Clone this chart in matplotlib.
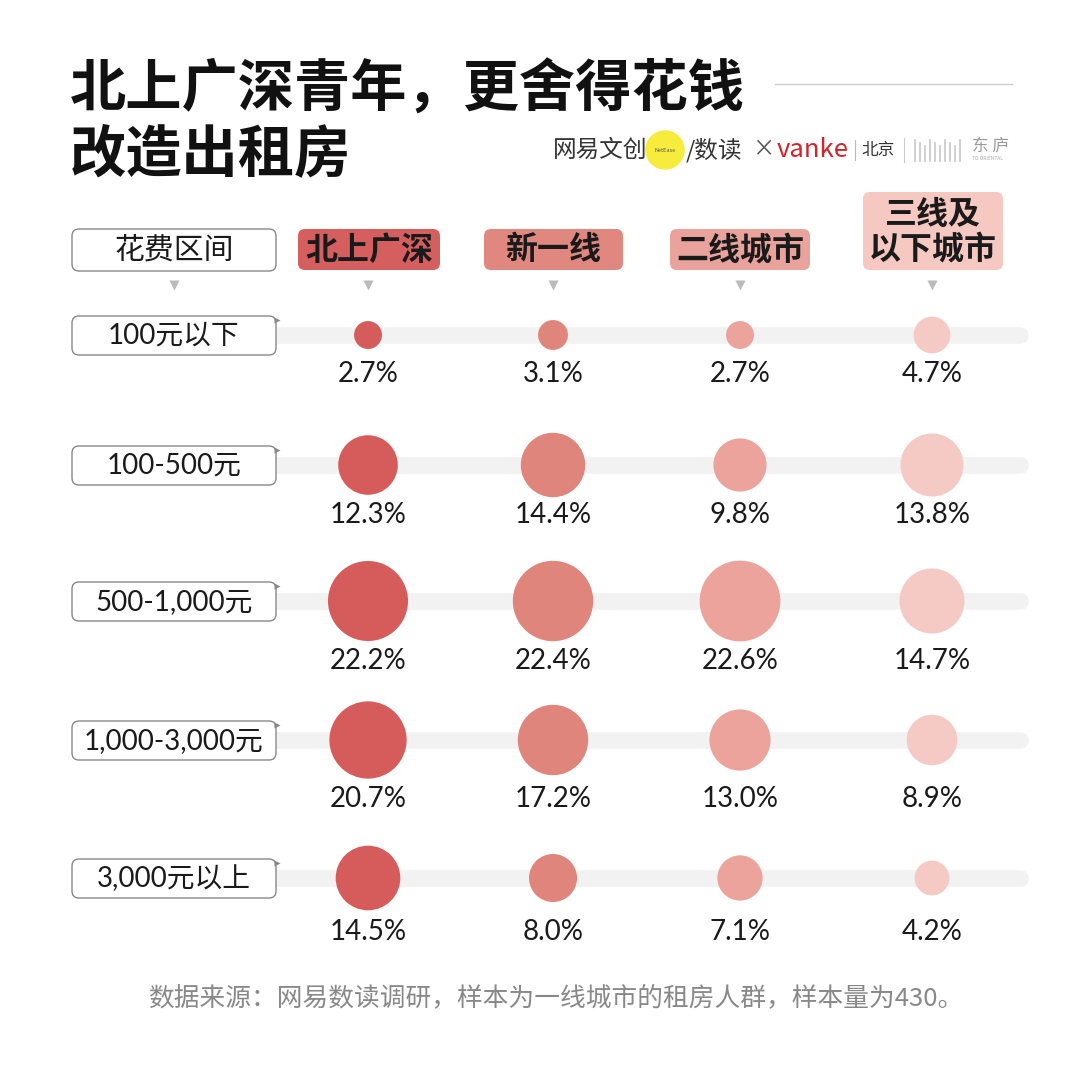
import matplotlib
matplotlib.use("Agg")
import matplotlib.pyplot as plt
from matplotlib.patches import FancyBboxPatch, Circle

plt.rcParams['font.family'] = ['Noto Sans CJK SC', 'DejaVu Sans']

# ---- data ----
categories = ['北上广深', '新一线', '二线城市', '三线及\n以下城市']
ranges = ['100元以下', '100-500元', '500-1,000元', '1,000-3,000元', '3,000元以上']
tier1 = [2.7, 12.3, 22.2, 20.7, 14.5]
new_tier1 = [3.1, 14.4, 22.4, 17.2, 8.0]
tier2 = [2.7, 9.8, 22.6, 13.0, 7.1]
tier3 = [4.7, 13.8, 14.7, 8.9, 4.2]
series = [tier1, new_tier1, tier2, tier3]

title1 = '北上广深青年，更舍得花钱'
title2 = '改造出租房'
source = '数据来源：网易数读调研，样本为一线城市的租房人群，样本量为430。'

# ---- layout ----
W, H = 1080, 1092
fig = plt.figure(figsize=(W / 100, H / 100), dpi=100)
ax = fig.add_axes([0, 0, 1, 1])
ax.set_xlim(0, W)
ax.set_ylim(H, 0)
ax.axis('off')
fig.patch.set_facecolor('white')

col_x = [368, 553, 740, 932]
row_y = [335, 465, 601, 740, 878]
label_y = [374, 515, 661, 799, 932]
head_colors = ['#d55f5f', '#e08880', '#eaa39c', '#f5c8c1']
bubble_colors = ['#d65c5c', '#e0857c', '#eba39c', '#f6cac4']
text_dark = '#1a1a1a'
num_family = ['Lato', 'Noto Sans CJK SC']

# title
ax.text(70, 90, title1, fontsize=40.5, fontweight='bold', color='#111111', va='center', ha='left')
ax.text(70, 155, title2, fontsize=40.5, fontweight='bold', color='#111111', va='center', ha='left')
ax.plot([775, 1012], [84, 84], color='#cccccc', lw=1)

# logos
ax.text(553, 150, '网易文创', fontsize=17, color='#333333', va='center', ha='left')
ax.add_patch(Circle((665, 150), 19, color='#f7ec3b', zorder=1))
ax.text(665, 150, 'NetEase', fontsize=4, color='#555555', va='center', ha='center', zorder=2)
ax.text(686, 150, '/数读', fontsize=17, color='#333333', va='center', ha='left')
ax.text(752, 150, '×', fontsize=16, color='#555555', va='center', ha='left')
ax.text(777, 150, 'vanke', fontsize=18.5, color='#d2232a', va='center', ha='left')
ax.plot([855, 855], [140, 160], color='#bbbbbb', lw=0.8)
ax.text(861, 150, '北京', fontsize=12, color='#333333', va='center', ha='left')
ax.plot([904, 904], [138, 162], color='#cccccc', lw=0.8)
for i in range(10):
    ax.plot([915 + i * 5, 915 + i * 5], [140 + (i % 3) * 3, 161], color='#c8c8c8', lw=1.2)
ax.text(972, 146, '东 庐', fontsize=12, color='#999999', va='center', ha='left')
ax.text(972, 159, 'TO ORIENTAL', fontsize=3.5, color='#aaaaaa', va='center', ha='left')

# header boxes
def rbox(x0, y0, w, h, fc, ec='none', lw=0):
    ax.add_patch(FancyBboxPatch((x0, y0), w, h, boxstyle='round,pad=0,rounding_size=7',
                                fc=fc, ec=ec, lw=lw, zorder=2))

rbox(72, 229, 204, 42, 'white', '#888888', 1)
ax.text(174, 250, '花费区间', fontsize=21.5, color=text_dark, va='center', ha='center', zorder=3)

head_boxes = [(298, 229, 142, 41), (484, 229, 139, 41), (670, 229, 140, 41), (863, 192, 140, 78)]
for (x0, y0, w, h), c, name in zip(head_boxes, head_colors, categories):
    rbox(x0, y0, w, h, c)
    ax.text(x0 + w / 2, y0 + h / 2 + 1, name, fontsize=23, fontweight='bold', color=text_dark,
            va='center', ha='center', zorder=3, linespacing=1.1)

# small triangles
for x in [174] + col_x:
    ax.plot(x, 285, marker='v', markersize=7, color='#bbbbbb', mec='none')

# rows
ref_d = 80.0  # pixel diameter for value 22.2
for r, (label, y) in enumerate(zip(ranges, row_y)):
    ax.plot([276, 1020], [y, y], color='#f2f2f2', lw=12, solid_capstyle='round', zorder=1)
    rbox(72, y - 19, 204, 39, 'white', '#888888', 1)
    ax.plot(277, y - 15, marker='>', markersize=4, color='#888888', mec='none', zorder=3)
    ax.text(174, y + 1, label, fontsize=20, family=num_family, color=text_dark,
            va='center', ha='center', zorder=3)
    for c, vals in enumerate(series):
        v = vals[r]
        d_px = ref_d * (v / 22.2) ** 0.5
        s = (d_px * 72 / 100) ** 2
        ax.scatter([col_x[c]], [y], s=s, color=bubble_colors[c], edgecolors='none', zorder=4)
        ax.text(col_x[c], label_y[r], f'{v:.1f}%', fontsize=20, family=num_family,
                color=text_dark, va='center', ha='center', zorder=5)

ax.text(556, 998, source, fontsize=18.5, color='#888888', va='center', ha='center')

fig.savefig('out.png', dpi=100, facecolor='white')
